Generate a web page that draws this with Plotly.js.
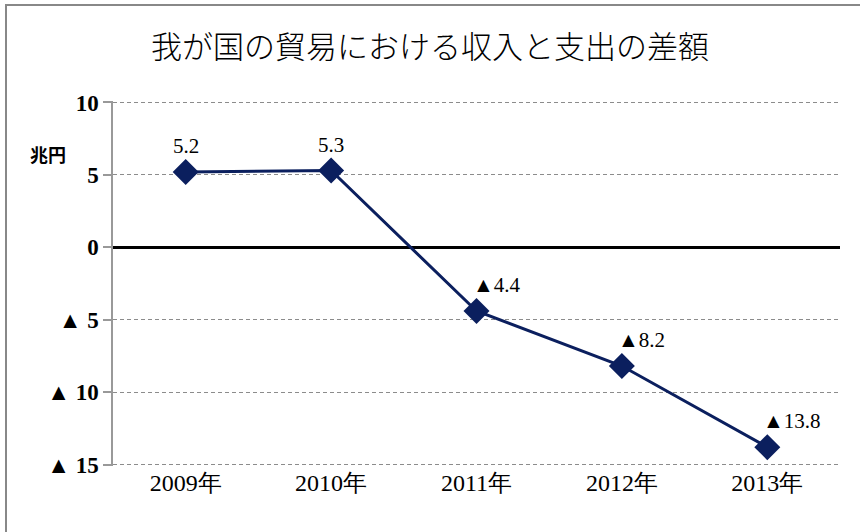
<!DOCTYPE html>
<html><head><meta charset="utf-8">
<script src="https://cdn.plot.ly/plotly-3.0.1.min.js"></script>
</head><body style="margin:0;padding:0;background:#fff">
<div id="chart" style="width:860px;height:532px"></div>
<script>
const categories = ["2009年","2010年","2011年","2012年","2013年"];
const values = [5.2, 5.3, -4.4, -8.2, -13.8];
const labelTexts = ["5.2","5.3","▲4.4","▲8.2","▲13.8"];
const yTickVals = [10, 5, 0, -5, -10, -15];
const yTickText = ["10","5","0","▲ 5","▲ 10","▲ 15"];

const fontSerif = "Liberation Serif";

const trace = {
  x: categories, y: values, type: "scatter", mode: "lines+markers",
  line: {color: "#0b1f5e", width: 3},
  marker: {symbol: "diamond", size: 20, color: "#0b1f5e"}
};

const annotations = categories.map((c, i) => ({
  x: c, y: values[i], text: labelTexts[i], showarrow: false,
  xanchor: values[i] >= 0 ? "center" : "left",
  xshift: values[i] >= 0 ? 0 : -6,
  yshift: 26,
  font: {family: fontSerif, size: 21, color: "#000"}
}));
annotations.push({
  xref: "paper", yref: "paper", x: (48 - 113) / 727, y: (465 - 153) / 365,
  text: "<b>兆円</b>", showarrow: false, xanchor: "center", yanchor: "middle",
  font: {family: "Noto Sans CJK JP", size: 18, color: "#000"}
});

const layout = {
  width: 860, height: 532,
  margin: {l: 113, r: 20, t: 101, b: 66},
  title: {text: "我が国の貿易における収入と支出の差額", x: 0.5, xanchor: "center", y: 1 - 47/532, yanchor: "middle",
    font: {family: "Noto Sans CJK JP", size: 31, color: "#000", weight: 300}},
  showlegend: false,
  xaxis: {type: "category", range: [-0.5, 4.5], showgrid: false, showline: false, zeroline: false,
    ticks: "", tickfont: {family: fontSerif, size: 24, color: "#000"}},
  yaxis: {range: [-15.1, 10.1], tickvals: yTickVals, ticktext: yTickText,
    tickfont: {family: fontSerif, size: 23, color: "#000", weight: "bold"},
    showgrid: true, gridcolor: "#8c8c8c", griddash: "4px,3px", gridwidth: 1,
    showline: true, linecolor: "#999", linewidth: 1.5,
    ticks: "outside", ticklen: 8, tickcolor: "#999", tickwidth: 1.5,
    zeroline: true, zerolinecolor: "#000", zerolinewidth: 3},
  annotations: annotations,
  shapes: [{type: "rect", xref: "paper", yref: "paper",
    x0: (6 - 113) / 727, x1: (870 - 113) / 727, y0: (466 - 545) / 365, y1: (466 - 5) / 365,
    line: {color: "#888", width: 2}, fillcolor: "rgba(0,0,0,0)", layer: "below"}]
};

Plotly.newPlot("chart", [trace], layout, {displayModeBar: false});
</script></body></html>
